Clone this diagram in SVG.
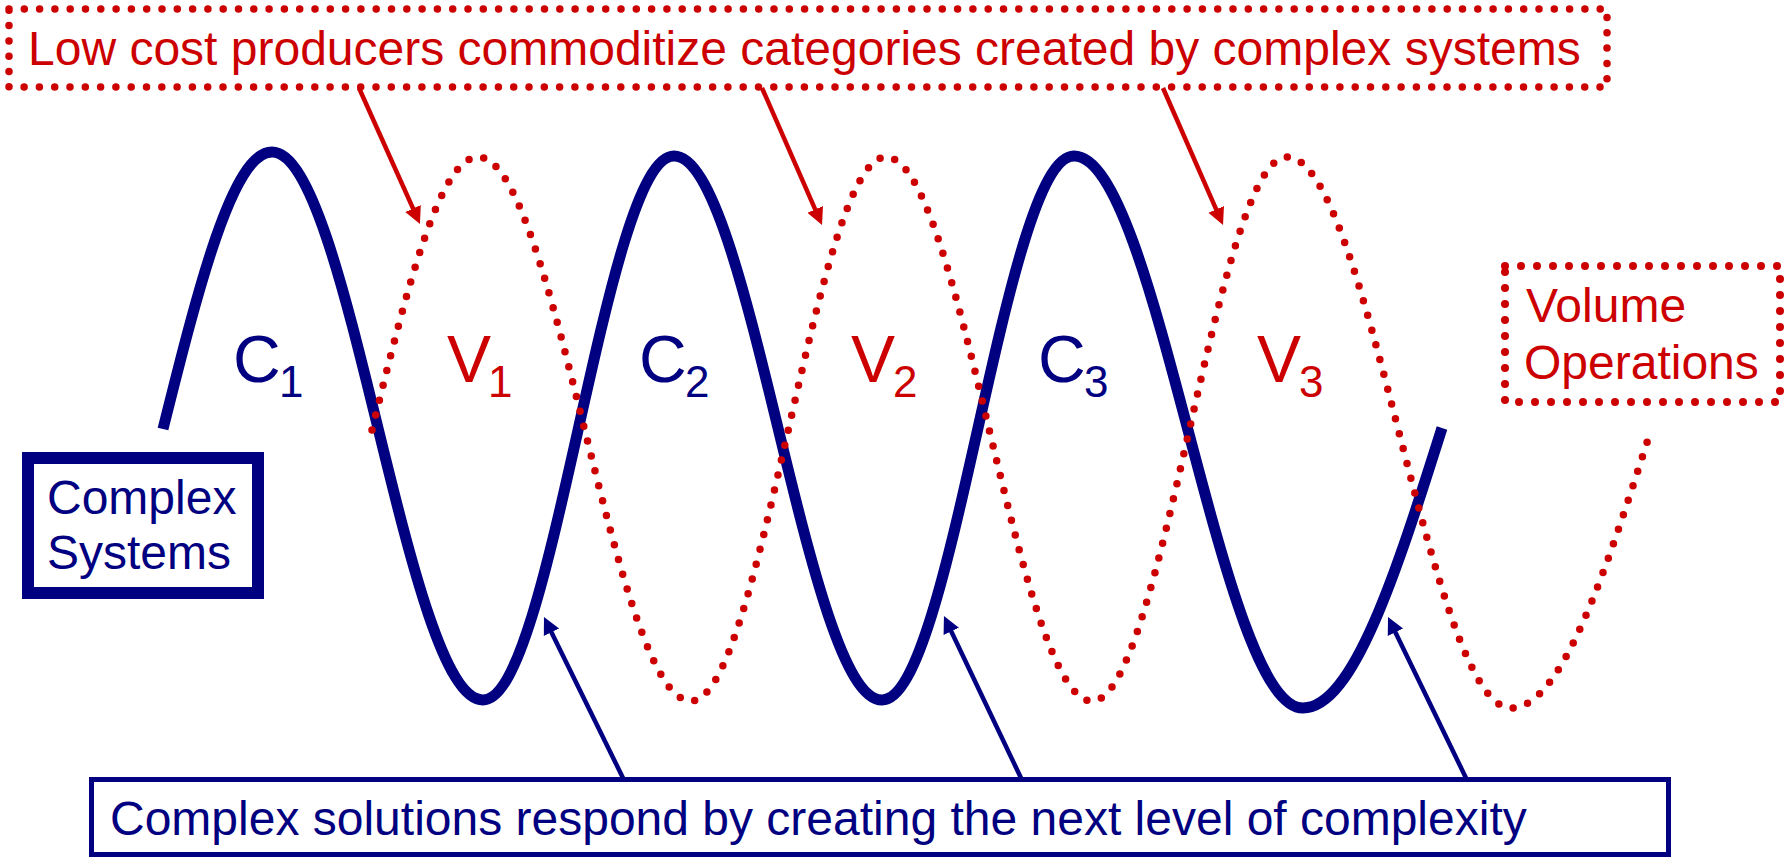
<svg xmlns="http://www.w3.org/2000/svg" width="1785" height="858" viewBox="0 0 1785 858">
<style>
text{font-family:"Liberation Sans",Arial,sans-serif}
.bt{fill:#000080}
.rt{fill:#CC0000}
.dotbox{fill:none;stroke:#CC0000;stroke-linecap:round}
.redline{stroke:#CC0000;stroke-width:4.5;fill:none}
.blueline{stroke:#000080;stroke-width:4.5;fill:none}
.lbl{font-size:66px}
.sub{font-size:44px}
.box{font-size:48px}
</style>
<defs>
<marker id="arR" markerUnits="userSpaceOnUse" markerWidth="20" markerHeight="20" viewBox="0 -10 20 20" refX="9" refY="0" orient="auto"><path d="M0,-8.5 L17,0 L0,8.5 z" fill="#CC0000"/></marker>
<marker id="arB" markerUnits="userSpaceOnUse" markerWidth="20" markerHeight="20" viewBox="0 -10 20 20" refX="9" refY="0" orient="auto"><path d="M0,-8.5 L17,0 L0,8.5 z" fill="#000080"/></marker>
</defs>
<rect width="1785" height="858" fill="#ffffff"/>

<g id="waves">
<path id="complex-wave" d="M163,429 C198.5,287.2 232.5,152 272,152 C348.7,152 406.3,700 483,700 C552.4,700 604.6,156 674,156 C749.6,156 806.4,700 882,700 C951.8,700 1004.2,156 1074,156 C1157.2,156 1219.8,708 1303,708 C1353.3,708 1396.7,571.4 1442,428" fill="none" stroke="#000080" stroke-width="11"/>
<path id="volume-wave" d="M372,430 C406.6,290.2 439.6,157 478,157 C555.4,157 613.6,701 691,701 C761.9,701 815.1,157 886,157 C960.9,157 1017.1,701 1092,701 C1162.9,701 1216.1,157 1287,157 C1368.4,157 1429.6,708 1511,708 C1561.7,708 1605.4,572.3 1651,430" fill="none" stroke="#CC0000" stroke-width="7.5" stroke-linecap="round" stroke-dasharray="0 15.3"/>
</g>

<g id="wave-labels">
<text class="bt lbl" x="233" y="382">C<tspan class="sub" x="279" y="397">1</tspan></text>
<text class="rt lbl" x="447" y="382">V<tspan class="sub" x="488" y="397">1</tspan></text>
<text class="bt lbl" x="639" y="382">C<tspan class="sub" x="685" y="397">2</tspan></text>
<text class="rt lbl" x="851" y="382">V<tspan class="sub" x="893" y="397">2</tspan></text>
<text class="bt lbl" x="1038" y="382">C<tspan class="sub" x="1084" y="397">3</tspan></text>
<text class="rt lbl" x="1257" y="382">V<tspan class="sub" x="1299" y="397">3</tspan></text>
</g>

<g id="low-cost-note">
<rect x="9" y="9" width="1598" height="78" class="dotbox" stroke-width="7.5" stroke-dasharray="0 15.3"/>
<text class="rt box" x="28" y="65">Low cost producers commoditize categories created by complex systems</text>
</g>

<g id="complex-systems">
<rect x="28" y="458" width="230" height="135" fill="#ffffff" stroke="#000080" stroke-width="12"/>
<text class="bt box" x="47" y="514">Complex</text>
<text class="bt box" x="47" y="569">Systems</text>
</g>

<g id="volume-operations">
<rect x="1505" y="266" width="275" height="136" class="dotbox" stroke-width="8" stroke-dasharray="0 16"/>
<text class="rt box" x="1526" y="322">Volume</text>
<text class="rt box" x="1524" y="379">Operations</text>
</g>

<g id="complex-solutions-note">
<rect x="91.5" y="779.5" width="1577" height="75" fill="#ffffff" stroke="#000080" stroke-width="5"/>
<text class="bt box" x="110" y="835">Complex solutions respond by creating the next level of complexity</text>
</g>

<g id="connectors">
<line class="redline" x1="359" y1="88" x2="416.7" y2="216.7" marker-end="url(#arR)"/>
<line class="redline" x1="762" y1="88" x2="818.8" y2="217.7" marker-end="url(#arR)"/>
<line class="redline" x1="1163" y1="88" x2="1219.8" y2="217.7" marker-end="url(#arR)"/>
<line class="blueline" x1="623" y1="778" x2="547.5" y2="624.2" marker-end="url(#arB)"/>
<line class="blueline" x1="1021" y1="778" x2="947.4" y2="623.2" marker-end="url(#arB)"/>
<line class="blueline" x1="1466" y1="778" x2="1391.5" y2="624.2" marker-end="url(#arB)"/>
</g>
</svg>
